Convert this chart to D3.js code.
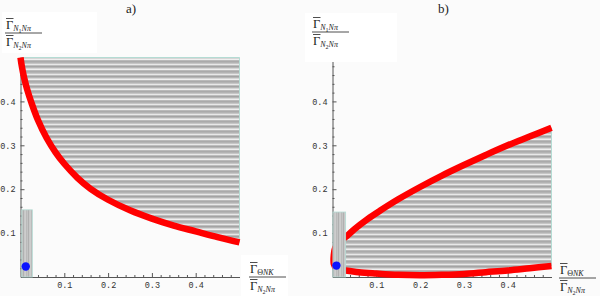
<!DOCTYPE html>
<html>
<head>
<meta charset="utf-8">
<script src="https://cdn.jsdelivr.net/npm/d3@7/dist/d3.min.js"></script>
<style>
  body { margin: 0; background: #fbfbfb; }
  svg { display: block; }
  .tick text { font-family: "Liberation Mono", "DejaVu Sans Mono", monospace; font-size: 8.5px; fill: #333; }
  .lbl { font-family: "Liberation Serif", "DejaVu Serif", serif; fill: #222; }
</style>
</head>
<body>
<svg id="chart" width="600" height="296"></svg>
<script>
// tick labels shared by both panels
var majorTicks = [0.1, 0.2, 0.3, 0.4];

// panel a) boundary curve (region above it is allowed)
var curveA_x = [0, 0.003, 0.008, 0.015, 0.025, 0.04, 0.06, 0.08, 0.10, 0.13, 0.16, 0.20, 0.25, 0.30, 0.35, 0.40, 0.45, 0.50];
var curveA_y = [0.5, 0.48, 0.455, 0.428, 0.397, 0.357, 0.316, 0.284, 0.258, 0.226, 0.201, 0.176, 0.152, 0.133, 0.117, 0.104, 0.091, 0.079];

// panel b) upper and lower boundary curves
var curveBUp_x = [0.003, 0.006, 0.015, 0.03, 0.05, 0.08, 0.11, 0.15, 0.20, 0.25, 0.30, 0.35, 0.40, 0.45, 0.50];
var curveBUp_y = [0.05, 0.066, 0.08, 0.091, 0.109, 0.132, 0.152, 0.177, 0.205, 0.231, 0.255, 0.278, 0.300, 0.320, 0.340];
var curveBLow_x = [0.003, 0.008, 0.018, 0.03, 0.06, 0.10, 0.15, 0.20, 0.25, 0.30, 0.35, 0.40, 0.45, 0.50];
var curveBLow_y = [0.03, 0.021, 0.017, 0.015, 0.011, 0.008, 0.005, 0.004, 0.005, 0.007, 0.011, 0.015, 0.02, 0.025];

// experimental box [x0, x1, y0, y1] and point [x, y]
var boxA = [0.003, 0.027, 0, 0.153];
var boxB = [0.001, 0.03, 0, 0.148];
var pointA = [0.012, 0.024];
var pointB = [0.009, 0.026];

var svg = d3.select("#chart");
var defs = svg.append("defs");

// horizontal stripes for the allowed regions
var hStripes = ["#b9b9b9", "#aaaaaa", "#b3b3b3", "#c6c6c6", "#e8e8e8", "#bdbdbd", "#a3a3a3", "#b5b5b5", "#d6d6d6", "#efefef"];
var hp = defs.append("pattern").attr("id", "hstripe")
    .attr("patternUnits", "userSpaceOnUse").attr("width", 4).attr("height", hStripes.length);
hStripes.forEach(function(c, i) {
    hp.append("rect").attr("x", 0).attr("y", i).attr("width", 4).attr("height", 1).attr("fill", c);
});
// vertical stripes for the small boxes
var vStripes = ["#cdcdcd", "#bababa", "#c4c4c4", "#b0b0b0", "#c8c8c8"];
var vp = defs.append("pattern").attr("id", "vstripe")
    .attr("patternUnits", "userSpaceOnUse").attr("width", vStripes.length).attr("height", 4);
vStripes.forEach(function(c, i) {
    vp.append("rect").attr("x", i).attr("y", 0).attr("width", 1).attr("height", 4).attr("fill", c);
});

var minorTicks = d3.range(0.02, 0.5, 0.02).filter(function(v) {
    return Math.abs(v * 10 - Math.round(v * 10)) > 1e-6;
});

function zip(xs, ys) { return xs.map(function(v, i) { return [v, ys[i]]; }); }

function drawAxes(g, x, y) {
    var h = y.range()[0];
    g.append("g").attr("transform", "translate(0," + h + ")")
        .call(d3.axisBottom(x).tickValues(minorTicks).tickSize(-2).tickSizeOuter(0).tickFormat(""))
        .call(function(s) { s.select(".domain").remove(); });
    g.append("g").attr("transform", "translate(" + x(0) + ",0)")
        .call(d3.axisLeft(y).tickValues(minorTicks).tickSize(-2).tickSizeOuter(0).tickFormat(""))
        .call(function(s) { s.select(".domain").remove(); });
    var xa = g.append("g").attr("transform", "translate(0," + h + ")")
        .call(d3.axisBottom(x).tickValues(majorTicks).tickSize(-4).tickSizeOuter(0).tickPadding(5).tickFormat(d3.format(".1f")));
    var ya = g.append("g").attr("transform", "translate(" + x(0) + ",0)")
        .call(d3.axisLeft(y).tickValues(majorTicks).tickSize(-4).tickSizeOuter(0).tickPadding(5).tickFormat(d3.format(".1f")));
    [xa, ya].forEach(function(a) {
        a.attr("font-family", null).attr("font-size", null);
        a.select(".domain").attr("stroke", "#555");
    });
    g.selectAll(".tick line").attr("stroke", "#555");
}

function drawBox(g, x, y, b, p) {
    g.append("rect")
        .attr("x", x(b[0])).attr("y", y(b[3]))
        .attr("width", x(b[1]) - x(b[0])).attr("height", y(b[2]) - y(b[3]))
        .attr("fill", "url(#vstripe)").attr("stroke", "#b4dcd4").attr("stroke-width", 0.8);
    g.append("circle").attr("cx", x(p[0])).attr("cy", y(p[1])).attr("r", 4.2).attr("fill", "#0a14ff");
}

// fraction label: Gamma-bar with subscripts over Gamma-bar
function frac(g, cx, cy, num, den, w) {
    g.append("line").attr("x1", cx).attr("x2", cx + w).attr("y1", cy).attr("y2", cy)
        .attr("stroke", "#222").attr("stroke-width", 0.8);
    [[num, cy - 4], [den, cy + 13]].forEach(function(part) {
        var t = g.append("text").attr("class", "lbl").attr("x", cx + 1).attr("y", part[1]);
        t.append("tspan").attr("font-size", 12.5).text("\u0393");
        part[0].forEach(function(s) {
            t.append("tspan").attr("font-size", s[2]).attr("font-style", s[1] ? "italic" : null)
                .attr("dy", s[3]).text(s[0]);
        });
        g.append("line").attr("x1", cx + 1).attr("x2", cx + 8.5).attr("y1", part[1] - 10.5).attr("y2", part[1] - 10.5)
            .attr("stroke", "#222").attr("stroke-width", 0.8);
    });
}
var subN1 = [["N", true, 8, 2], ["1", false, 6, 1.5], ["N\u03c0", true, 8, -1.5]];
var subN2 = [["N", true, 8, 2], ["2", false, 6, 1.5], ["N\u03c0", true, 8, -1.5]];
var subTh = [["\u0398", false, 8, 2], ["NK", true, 8, 0]];

var line = d3.line().curve(d3.curveCatmullRom);

// ---------- panel a ----------
var xa = d3.scaleLinear().domain([0, 0.5]).range([20.5, 239.5]);
var ya = d3.scaleLinear().domain([0, 0.5]).range([277, 57.5]);
var ga = svg.append("g");
var ptsA = zip(curveA_x, curveA_y);

ga.append("path")
    .datum(ptsA)
    .attr("d", d3.area().curve(d3.curveCatmullRom)
        .x(function(d) { return xa(d[0]); })
        .y0(ya(0.5))
        .y1(function(d) { return ya(d[1]); }))
    .attr("fill", "url(#hstripe)");
ga.append("path")
    .attr("d", "M" + xa(0) + "," + ya(0.5) + "H" + xa(0.5) + "V" + ya(curveA_y[curveA_y.length - 1]))
    .attr("fill", "none").attr("stroke", "#b4dcd4").attr("stroke-width", 1);
drawAxes(ga, xa, ya);
ga.append("path")
    .attr("d", line(ptsA.map(function(d) { return [xa(d[0]), ya(d[1])]; })))
    .attr("fill", "none").attr("stroke", "#ff0000").attr("stroke-width", 6.5);
drawBox(ga, xa, ya, boxA, pointA);

// ---------- panel b ----------
var xb = d3.scaleLinear().domain([0, 0.5]).range([332.5, 551.5]);
var yb = d3.scaleLinear().domain([0, 0.5]).range([277, 57.5]);
var gb = svg.append("g");
var up = zip(curveBUp_x, curveBUp_y);
var low = zip(curveBLow_x, curveBLow_y);
var loop = up.slice().reverse().concat(low).map(function(d) { return [xb(d[0]), yb(d[1])]; });

gb.append("path").attr("d", line(loop) + "Z").attr("fill", "url(#hstripe)");
gb.append("line")
    .attr("x1", xb(0.5)).attr("x2", xb(0.5))
    .attr("y1", yb(curveBUp_y[curveBUp_y.length - 1])).attr("y2", yb(curveBLow_y[curveBLow_y.length - 1]))
    .attr("stroke", "#b4dcd4").attr("stroke-width", 1);
drawAxes(gb, xb, yb);
gb.append("path").attr("d", line(loop))
    .attr("fill", "none").attr("stroke", "#ff0000").attr("stroke-width", 6.5);
drawBox(gb, xb, yb, boxB, pointB);

// ---------- labels ----------
[[2, 12, 95, 41], [305, 13, 92, 49], [241, 255, 47, 41]].forEach(function(r) {
    svg.append("rect").attr("x", r[0]).attr("y", r[1]).attr("width", r[2]).attr("height", r[3]).attr("fill", "#fff");
});

frac(svg, 5, 33, subN1, subN2, 37);
frac(svg, 312, 32, subN1, subN2, 37);
frac(svg, 249, 277, subTh, subN2, 37);
frac(svg, 559, 278, subTh, subN2, 37);

svg.append("text").attr("class", "lbl").attr("x", 126).attr("y", 13).attr("font-size", 13).text("a)");
svg.append("text").attr("class", "lbl").attr("x", 438).attr("y", 13).attr("font-size", 13).text("b)");
</script>
</body>
</html>
